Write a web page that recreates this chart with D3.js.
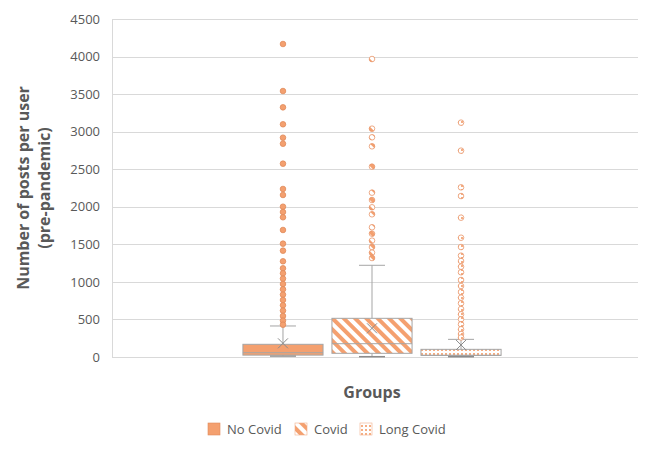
<!DOCTYPE html>
<html><head><meta charset="utf-8">
<script src="https://cdn.jsdelivr.net/npm/d3@7"></script>
<style>body{margin:0;background:#fff}svg{display:block}</style>
</head><body><svg id="c" width="648" height="459"></svg>
<script>
const series = ["No Covid", "Covid", "Long Covid"];
const yTicks = [0, 500, 1000, 1500, 2000, 2500, 3000, 3500, 4000, 4500];
// box stats: min (whisker low), q1, median, q3, whisker high, mean
const whiskerLow = [13, 4, 4];
const q1 = [25, 49, 22];
const median = [57, 177, 22];
const q3 = [169, 515, 102];
const whiskerHigh = [413, 1221, 235];
const means = [182, 382, 160];
const outliersNoCovid = [4167, 3541, 3324, 3098, 2920, 2840, 2574, 2237, 2157, 2001, 1930, 1860, 1691, 1509, 1416, 1274, 1181, 1114, 1043, 972, 901, 830, 759, 688, 617, 546, 484, 430];
const outliersCovid = [3967, 3040, 2925, 2805, 2534, 2188, 2090, 1993, 1900, 1727, 1642, 1549, 1464, 1389, 1318];
const outliersLongCovid = [3120, 2747, 2259, 2143, 1855, 1588, 1464, 1349, 1278, 1202, 1128, 1025, 945, 865, 790, 715, 639, 568, 502, 435, 369, 306, 260];
const outliers = [outliersNoCovid, outliersCovid, outliersLongCovid];

const svg = d3.select("#c");
const W = 648, H = 459;
const m = {l: 112, r: 10, t: 19, b: 102};
const orange = "#F4A06F";
const boxStroke = "#A5A5A5";
const txt = "#595959";
const font = "'Open Sans', 'Noto Sans', sans-serif";

const y = d3.scaleLinear().domain([0, 4500]).range([H - m.b, m.t]);
const xGroup = d3.scaleBand().domain(["Groups"]).range([m.l, W - m.r]).paddingInner(0).paddingOuter(0.453);
const xs = d3.scaleBand().domain(series).range([xGroup("Groups") - 3, xGroup("Groups") + xGroup.bandwidth() - 3]).padding(0.1);

// patterns
const defs = svg.append("defs");
const stripe = defs.append("pattern").attr("id", "stripe").attr("patternUnits", "userSpaceOnUse")
  .attr("width", 8).attr("height", 8).attr("patternTransform", "rotate(-45)");
stripe.append("rect").attr("width", 8).attr("height", 8).attr("fill", "#fff");
stripe.append("rect").attr("width", 4).attr("height", 8).attr("fill", orange);
const dots = defs.append("pattern").attr("id", "dots").attr("patternUnits", "userSpaceOnUse")
  .attr("width", 4).attr("height", 4);
dots.append("rect").attr("width", 4).attr("height", 4).attr("fill", "#fff");
dots.append("rect").attr("x", 1).attr("y", 1).attr("width", 2).attr("height", 2).attr("fill", orange).attr("opacity", 0.85);
const fills = [orange, "url(#stripe)", "url(#dots)"];

// gridlines
svg.append("g").selectAll("line").data(yTicks).join("line")
  .attr("x1", m.l).attr("x2", W - m.r).attr("y1", d => Math.round(y(d)) + 0.5).attr("y2", d => Math.round(y(d)) + 0.5)
  .attr("stroke", "#D9D9D9").attr("stroke-width", 1);
svg.append("line").attr("x1", m.l + 0.5).attr("x2", m.l + 0.5).attr("y1", y(4500)).attr("y2", y(0))
  .attr("stroke", "#D9D9D9");

// y axis labels
const yAxis = d3.axisLeft(y).tickValues(yTicks).tickFormat(d3.format("d")).tickSize(0).tickPadding(12);
const ga = svg.append("g").attr("transform", `translate(${m.l},0)`).call(yAxis);
ga.select(".domain").remove();
ga.selectAll("text").attr("fill", txt).style("font-family", font).style("font-size", "13px");

// boxes
series.forEach((s, i) => {
  const cx = xs(s) + xs.bandwidth() / 2;
  const g = svg.append("g");
  const capW = 26;
  g.append("line").attr("x1", cx).attr("x2", cx).attr("y1", y(q3[i])).attr("y2", y(whiskerHigh[i])).attr("stroke", boxStroke);
  g.append("line").attr("x1", cx).attr("x2", cx).attr("y1", y(q1[i])).attr("y2", y(whiskerLow[i])).attr("stroke", boxStroke);
  g.append("line").attr("x1", cx - capW / 2).attr("x2", cx + capW / 2).attr("y1", y(whiskerHigh[i])).attr("y2", y(whiskerHigh[i])).attr("stroke", boxStroke);
  g.append("line").attr("x1", cx - capW / 2).attr("x2", cx + capW / 2).attr("y1", y(whiskerLow[i])).attr("y2", y(whiskerLow[i])).attr("stroke", "#8C8C8C").attr("stroke-width", 1.5);
  g.append("rect").attr("x", xs(s)).attr("width", xs.bandwidth())
    .attr("y", y(q3[i])).attr("height", y(q1[i]) - y(q3[i]))
    .attr("fill", fills[i]).attr("stroke", boxStroke);
  g.append("line").attr("x1", xs(s)).attr("x2", xs(s) + xs.bandwidth()).attr("y1", y(median[i])).attr("y2", y(median[i])).attr("stroke", boxStroke);
  const my = y(means[i]), r = 5;
  g.append("path").attr("d", `M${cx - r},${my - r}L${cx + r},${my + r}M${cx - r},${my + r}L${cx + r},${my - r}`)
    .attr("stroke", "#8C8C8C").attr("fill", "none");
  g.selectAll("circle").data(outliers[i]).join("circle")
    .attr("cx", cx).attr("cy", d => y(d)).attr("r", 2.8)
    .attr("fill", fills[i]).attr("stroke", i === 0 ? "#E08A5A" : "#E8956A").attr("stroke-width", 0.8);
});

// y title
const yt = svg.append("text").attr("transform", `translate(32,${(y(0) + y(4500)) / 2}) rotate(-90)`)
  .attr("text-anchor", "middle").attr("fill", txt).style("font-family", font).style("font-size", "16px").style("font-weight", "bold");
yt.append("tspan").attr("x", 0).attr("dy", "-0.2em").text("Number of posts per user");
yt.append("tspan").attr("x", 0).attr("dy", "1.35em").text("(pre-pandemic)");

// x title
svg.append("text").attr("x", xGroup("Groups") + xGroup.bandwidth() / 2 - 3).attr("y", 398)
  .attr("text-anchor", "middle").attr("fill", txt).style("font-family", font).style("font-size", "16px").style("font-weight", "bold").text("Groups");

// legend
const legX = [208, 295, 360];
const leg = svg.append("g");
series.forEach((s, i) => {
  leg.append("rect").attr("x", legX[i]).attr("y", 423).attr("width", 12).attr("height", 12)
    .attr("fill", fills[i]).attr("stroke", i === 0 ? "#E08A5A" : "#F0B08A").attr("stroke-width", 0.6);
  leg.append("text").attr("x", legX[i] + 19).attr("y", 434).attr("fill", txt)
    .style("font-family", font).style("font-size", "13px").text(s);
});
</script></body></html>
